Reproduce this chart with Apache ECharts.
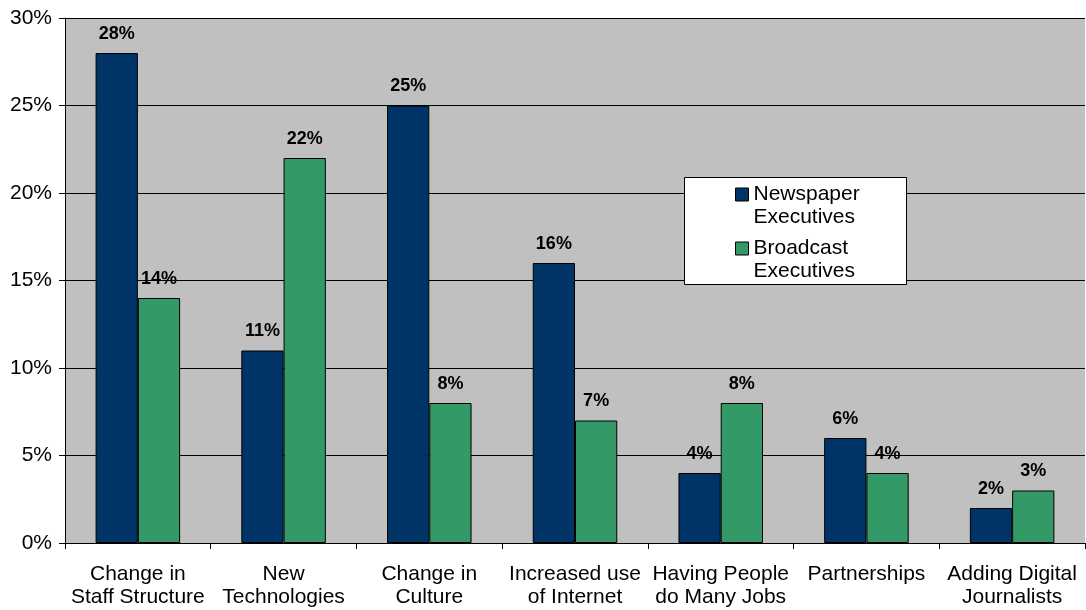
<!DOCTYPE html>
<html>
<head>
<meta charset="utf-8">
<script src="https://cdn.jsdelivr.net/npm/echarts@6/dist/echarts.min.js"></script>
<style>
  html, body { margin: 0; padding: 0; background: #fff; }
  #chart { width: 1086px; height: 610px; }
</style>
</head>
<body>
<div id="chart"></div>
<script>
  var categories = [
    'Change in\nStaff Structure',
    'New\nTechnologies',
    'Change in\nCulture',
    'Increased use\nof Internet',
    'Having People\ndo Many Jobs',
    'Partnerships',
    'Adding Digital\nJournalists'
  ];
  var newspaper = [28, 11, 25, 16, 4, 6, 2];
  var broadcast = [14, 22, 8, 7, 8, 4, 3];
  var yTicks = [0, 5, 10, 15, 20, 25, 30];

  var chart = echarts.init(document.getElementById('chart'));

  var labelStyle = {
    show: true,
    position: 'top',
    distance: 10,
    formatter: '{c}%',
    color: '#000',
    fontWeight: 'bold',
    fontSize: 18
  };

  var option = {
    animation: false,
    textStyle: { fontFamily: 'Liberation Sans, Arial, sans-serif' },
    grid: {
      left: 65, right: 1, top: 18, bottom: 67,
      show: true, backgroundColor: '#c0c0c0', borderWidth: 0
    },
    // white legend box, the legend itself sits on top of it
    graphic: [{
      type: 'rect',
      left: 684, top: 177, z: 10,
      shape: { width: 222, height: 107 },
      style: { fill: '#fff', stroke: '#000', lineWidth: 1 }
    }],
    legend: {
      orient: 'vertical',
      left: 735,
      top: 160,
      z: 20,
      padding: 0,
      itemGap: -15,
      itemWidth: 13,
      itemHeight: 13,
      icon: 'rect',
      data: ['Newspaper\nExecutives', 'Broadcast\nExecutives'],
      // empty first line so the icon lines up with the first text line
      formatter: function (name) {
        return '\n' + name;
      },
      itemStyle: { borderColor: '#000', borderWidth: 1 },
      textStyle: { fontSize: 21, color: '#000', lineHeight: 23 }
    },
    xAxis: {
      type: 'category',
      data: categories,
      axisLine: { lineStyle: { color: '#000' } },
      axisTick: { show: true, length: 6, lineStyle: { color: '#000' } },
      axisLabel: {
        color: '#000', fontSize: 21, lineHeight: 23, margin: 20, interval: 0
      }
    },
    yAxis: {
      type: 'value',
      min: yTicks[0],
      max: yTicks[yTicks.length - 1],
      interval: 5,
      axisLine: { show: true, lineStyle: { color: '#000' } },
      axisTick: { show: true, length: 6, lineStyle: { color: '#000' } },
      axisLabel: { color: '#000', fontSize: 21, margin: 13, formatter: '{value}%' },
      splitLine: { lineStyle: { color: '#000', width: 1 } }
    },
    series: [
      {
        name: 'Newspaper\nExecutives',
        type: 'bar',
        data: newspaper,
        barGap: '0%',
        barCategoryGap: '42%',
        itemStyle: { color: '#003366', borderColor: '#000', borderWidth: 1 },
        label: labelStyle
      },
      {
        name: 'Broadcast\nExecutives',
        type: 'bar',
        data: broadcast,
        itemStyle: { color: '#339966', borderColor: '#000', borderWidth: 1 },
        label: labelStyle
      }
    ]
  };

  chart.setOption(option);
</script>
</body>
</html>
